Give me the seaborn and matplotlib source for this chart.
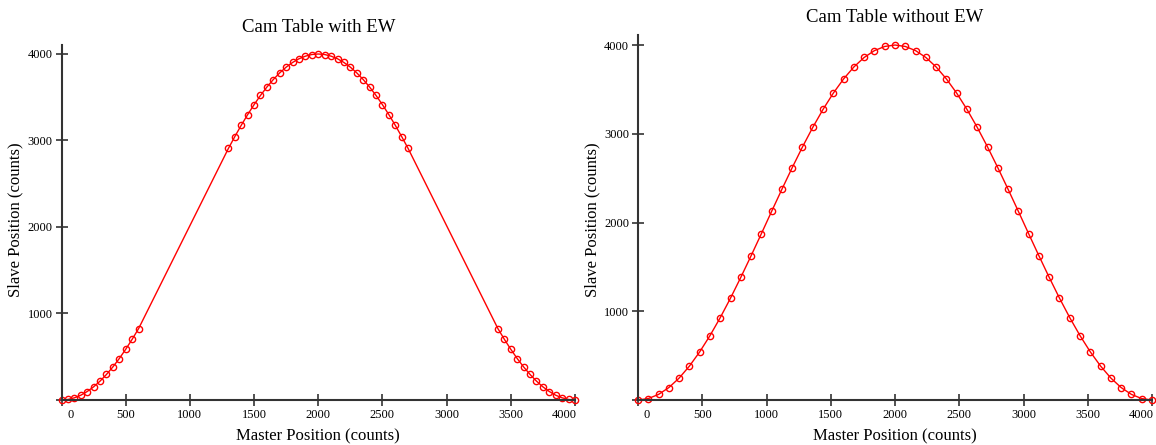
import matplotlib
matplotlib.use("Agg")
import matplotlib.pyplot as plt
import matplotlib.transforms as mtransforms
import seaborn as sns

# cam table with EW (end windows): points only on the curved parts
master_ew = [0, 50, 100, 150, 200, 250, 300, 350, 400, 450, 500, 550, 600,
             1300, 1350, 1400, 1450, 1500, 1550, 1600, 1650, 1700, 1750, 1800,
             1850, 1900, 1950, 2000, 2050, 2100, 2150, 2200, 2250, 2300, 2350,
             2400, 2450, 2500, 2550, 2600, 2650, 2700,
             3400, 3450, 3500, 3550, 3600, 3650, 3700, 3750, 3800, 3850, 3900,
             3950, 4000]
slave_ew = [0, 6, 25, 55, 98, 152, 218, 295, 382, 479, 586, 701, 824,
            2908, 3045, 3176, 3299, 3414, 3521, 3618, 3705, 3782, 3848, 3902,
            3945, 3975, 3994, 4000, 3994, 3975, 3945, 3902, 3848, 3782, 3705,
            3618, 3521, 3414, 3299, 3176, 3045, 2908,
            824, 701, 586, 479, 382, 295, 218, 152, 98, 55, 25, 6, 0]

# cam table without EW: evenly spaced points
master_no = [0, 80, 160, 240, 320, 400, 480, 560, 640, 720, 800, 880, 960,
             1040, 1120, 1200, 1280, 1360, 1440, 1520, 1600, 1680, 1760, 1840,
             1920, 2000, 2080, 2160, 2240, 2320, 2400, 2480, 2560, 2640, 2720,
             2800, 2880, 2960, 3040, 3120, 3200, 3280, 3360, 3440, 3520, 3600,
             3680, 3760, 3840, 3920, 4000]
slave_no = [0, 16, 63, 140, 247, 382, 542, 725, 928, 1148, 1382, 1625, 1874,
            2126, 2375, 2618, 2852, 3072, 3275, 3458, 3618, 3753, 3860, 3937,
            3984, 4000, 3984, 3937, 3860, 3753, 3618, 3458, 3275, 3072, 2852,
            2618, 2375, 2126, 1874, 1625, 1382, 1148, 928, 725, 542, 382, 247,
            140, 63, 16, 0]

x_ticks = [0, 500, 1000, 1500, 2000, 2500, 3000, 3500, 4000]
y_ticks = [0, 1000, 2000, 3000, 4000]
y_labels = ['', '1000', '2000', '3000', '4000']

sns.set_style('white')
plt.rcParams['font.family'] = ['Liberation Serif', 'DejaVu Serif']
plt.rcParams['text.color'] = 'black'

W, H = 1156, 445
fig = plt.figure(figsize=(W / 100, H / 100), dpi=100)


def px_axes(x0, x1, ytop, ybot):
    return fig.add_axes([x0 / W, 1 - ybot / H, (x1 - x0) / W, (ybot - ytop) / H])


def shift(label, dx):
    label.set_transform(label.get_transform() +
                        mtransforms.ScaledTranslation(dx / 100, 0, fig.dpi_scale_trans))


panels = [
    (px_axes(61.5, 575, 45, 400), master_ew, slave_ew, 4104, 'Cam Table with EW', 28),
    (px_axes(638, 1152, 35, 400), master_no, slave_no, 4113, 'Cam Table without EW', 18),
]

for ax, xs, ys, ytop, title, title_y in panels:
    sns.lineplot(x=xs, y=ys, ax=ax, color='red', linewidth=1, marker='o',
                 markersize=4.5, markerfacecolor='none', markeredgecolor='red',
                 markeredgewidth=1, clip_on=False)
    ax.set_xlim(0, 4000)
    ax.set_ylim(0, ytop)
    ax.set_xticks(x_ticks)
    ax.set_yticks(y_ticks)
    ax.set_yticklabels(y_labels)
    sns.despine(ax=ax)
    for s in ['left', 'bottom']:
        ax.spines[s].set_color('#333333')
        ax.spines[s].set_linewidth(1.5)
    ax.tick_params(bottom=True, left=True, direction='inout', length=9,
                   width=1.2, color='#333333', labelcolor='black',
                   labelsize=9, pad=2)
    # end labels are nudged inward like the original
    xlabs = ax.get_xticklabels()
    shift(xlabs[0], 9)
    shift(xlabs[-1], -11)
    ax.set_xlabel('')
    ax.set_ylabel('')
    pos = ax.get_position()
    cx = (pos.x0 + pos.x1) / 2 * W
    fig.text(cx / W, 1 - title_y / H, title, ha='center', va='center', fontsize=13.5)
    fig.text(cx / W, 1 - 436 / H, 'Master Position (counts)', ha='center',
             va='center', fontsize=12)
    fig.text((pos.x0 * W - 46) / W, 1 - 220 / H, 'Slave Position (counts)',
             ha='center', va='center', rotation=90, fontsize=12)

fig.savefig('out.png', dpi=100)
